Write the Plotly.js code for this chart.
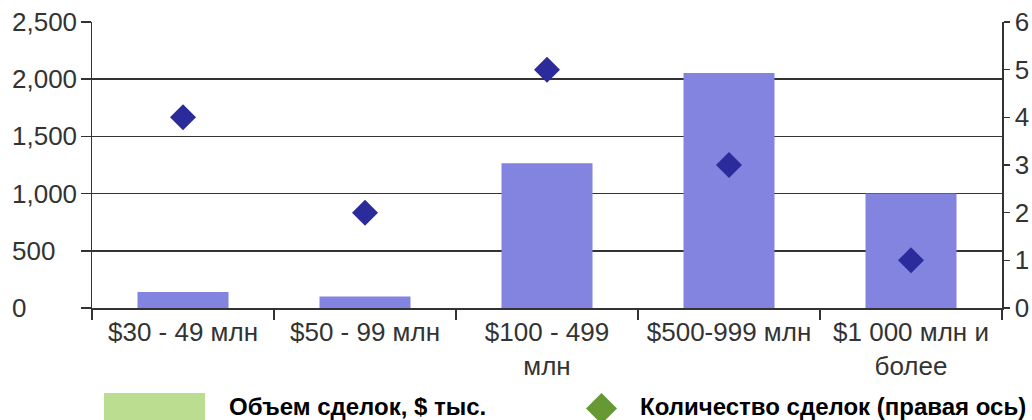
<!DOCTYPE html>
<html>
<head>
<meta charset="utf-8">
<script src="https://cdn.plot.ly/plotly-3.0.1.min.js"></script>
<style>html,body{margin:0;padding:0;background:#fff;}#chart{width:1032px;height:420px;}</style>
</head>
<body>
<div id="chart"></div>
<script>
var categories = ["$30 - 49 млн", "$50 - 99 млн", "$100 - 499<br>млн", "$500-999 млн", "$1 000 млн и<br>более"];
var volume = [140, 100, 1265, 2055, 1000];
var dealCount = [4, 2, 5, 3, 1];
var leftTicks = [0, 500, 1000, 1500, 2000, 2500];
var leftTickText = ["0", "500", "1,000", "1,500", "2,000", "2,500"];
var seriesNames = ["Объем сделок, $ тыс.", "Количество сделок (правая ось)"];

var W = 1032, H = 420, L = 92, R = 30, T = 22, B = 112;
var pw = W - L - R, ph = H - T - B;
function px(x){ return (x - L) / pw; }
function py(y){ return (H - B - y) / ph; }
var FONT = "Liberation Sans, Arial, sans-serif";

var traces = [
  {type: "bar", x: categories, y: volume, name: seriesNames[0], marker: {color: "#8383E0"}, showlegend: false, hoverinfo: "y"},
  {type: "scatter", mode: "markers", x: categories, y: dealCount, yaxis: "y2", name: seriesNames[1],
   marker: {symbol: "diamond", size: 20, color: "#2B2B9C"}, showlegend: false}
];

var annotations = leftTicks.map(function(v, i){
  return {xref: "paper", yref: "y", x: px(10), y: v, text: leftTickText[i], showarrow: false,
          xanchor: "left", yanchor: "middle", font: {family: FONT, size: 26, color: "#333"}};
});
annotations.push({xref: "paper", yref: "paper", x: px(227), y: py(406), text: "<b>" + seriesNames[0] + "</b>", showarrow: false,
  xanchor: "left", yanchor: "middle", font: {family: FONT, size: 24, color: "#000"}});
annotations.push({xref: "paper", yref: "paper", x: px(638), y: py(406), text: "<b>" + seriesNames[1] + "</b>", showarrow: false,
  xanchor: "left", yanchor: "middle", font: {family: FONT, size: 24, color: "#000"}});

var shapes = [
  {type: "rect", xref: "paper", yref: "paper", x0: px(104), x1: px(205), y0: py(393), y1: py(422), fillcolor: "#BBDD8F", line: {width: 0}},
  {type: "path", xref: "paper", yref: "paper",
   path: "M " + px(586) + " " + py(408.5) + " L " + px(601.5) + " " + py(393) + " L " + px(617) + " " + py(408.5) + " L " + px(601.5) + " " + py(424) + " Z",
   fillcolor: "#669933", line: {width: 0}}
];

var layout = {
  width: W, height: H,
  margin: {l: L, r: R, t: T, b: B, pad: 0},
  paper_bgcolor: "#fff", plot_bgcolor: "#fff",
  font: {family: FONT, size: 26, color: "#333"},
  bargap: 0.5,
  showlegend: false,
  xaxis: {type: "category", tickson: "boundaries", ticks: "outside", ticklen: 10, tickcolor: "#333", tickwidth: 1.5,
          showline: true, linecolor: "#333", linewidth: 1.5, showgrid: false,
          tickfont: {size: 26, color: "#333"}, fixedrange: true},
  yaxis: {range: [0, 2500], tickvals: leftTicks, showticklabels: false, ticks: "outside", ticklen: 10, tickcolor: "#333", tickwidth: 1.5,
          showline: true, linecolor: "#333", linewidth: 1.5, showgrid: true, gridcolor: "#333", gridwidth: 1.5,
          zeroline: false, fixedrange: true},
  yaxis2: {range: [0, 6], dtick: 1, overlaying: "y", side: "right", showgrid: false, zeroline: false,
           ticks: "outside", ticklen: 6, tickcolor: "#333", tickwidth: 1.5, showline: true, linecolor: "#333", linewidth: 1.5,
           tickfont: {size: 26, color: "#333"}, fixedrange: true},
  annotations: annotations,
  shapes: shapes
};

Plotly.newPlot("chart", traces, layout, {displayModeBar: false, staticPlot: true});
</script>
</body>
</html>
